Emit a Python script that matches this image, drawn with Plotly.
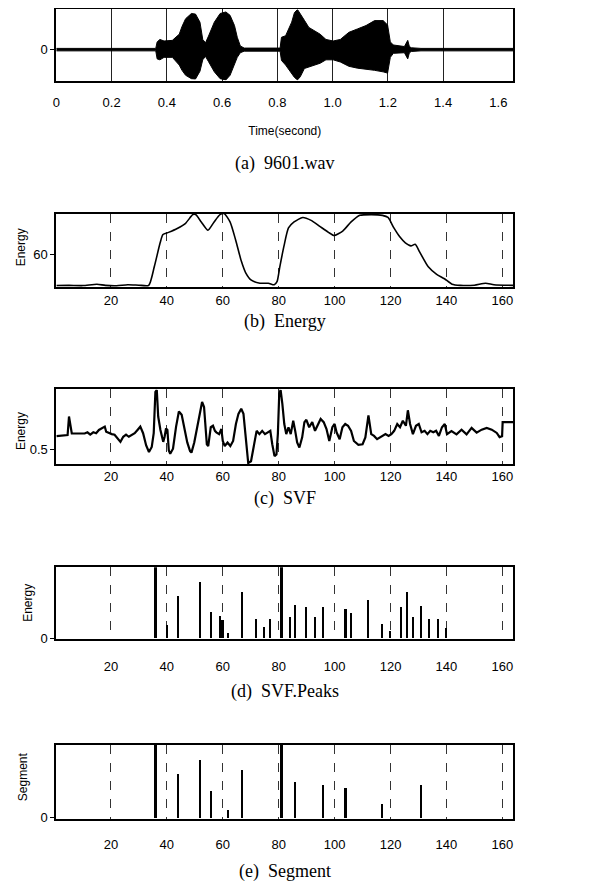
import plotly.graph_objects as go

# ---------------- data ----------------
# (a) waveform envelope of 9601.wav (time in seconds, amplitude in relative units)
wave_t = [0.0, 0.36, 0.365, 0.375, 0.39, 0.42, 0.445, 0.455, 0.468, 0.489, 0.504, 0.52, 0.53, 0.54,
          0.551, 0.572, 0.593, 0.614, 0.629, 0.645, 0.655, 0.666, 0.68, 0.81, 0.815, 0.83, 0.852,
          0.862, 0.873, 0.883, 0.898, 0.914, 0.935, 0.955, 0.976, 1.002, 1.028, 1.059, 1.09, 1.121,
          1.152, 1.183, 1.199, 1.209, 1.22, 1.26, 1.272, 1.278, 1.285, 1.32, 1.66]
wave_upper = [0.04, 0.04, 0.25, 0.33, 0.28, 0.30, 0.50, 0.75, 1.00, 1.17, 1.15, 0.89, 0.33, 0.22,
              0.44, 0.89, 1.17, 1.22, 1.11, 0.78, 0.40, 0.12, 0.05, 0.05, 0.40, 0.45, 0.89,
              1.20, 1.30, 1.17, 0.95, 0.72, 0.61, 0.50, 0.33, 0.28, 0.33, 0.56, 0.67, 0.78,
              0.94, 0.94, 0.80, 0.25, 0.15, 0.10, 0.30, 0.10, 0.06, 0.04, 0.04]
wave_lower = [-0.04, -0.04, -0.30, -0.33, -0.25, -0.25, -0.50, -0.67, -0.83, -0.94, -0.95, -0.70, -0.33, -0.22,
              -0.39, -0.72, -0.94, -0.98, -0.83, -0.50, -0.25, -0.10, -0.05, -0.05, -0.35, -0.50, -0.76,
              -0.90, -0.98, -0.88, -0.61, -0.56, -0.50, -0.44, -0.33, -0.33, -0.40, -0.54, -0.60, -0.63,
              -0.67, -0.72, -0.76, -0.25, -0.12, -0.10, -0.30, -0.10, -0.06, -0.04, -0.04]
time_ticks = [0, 0.2, 0.4, 0.6, 0.8, 1.0, 1.2, 1.4, 1.6]
time_ticktext = ["0", "0.2", "0.4", "0.6", "0.8", "1.0", "1.2", "1.4", "1.6"]
time_grid = [0.2, 0.4, 0.6, 0.8, 1.0, 1.2, 1.4]

# (b) energy per frame
energy_frame = [0.5, 5, 10, 15, 18, 22, 26, 30, 33.5, 35.5, 37.6, 38.6, 40.6, 43.7, 46.7, 49.3, 50.3,
                52.3, 54.7, 56.9, 59, 60.5, 62.6, 64.6, 66.6, 68.2, 70.2, 73.3, 76.3, 78.4, 79.4,
                80.4, 81.9, 83.5, 85.5, 88.6, 91.6, 94.7, 97.8, 99.8, 102.9, 105.9, 109, 113.1,
                117.1, 119.1, 121.2, 123.3, 125.3, 127.3, 128.8, 130.4, 133.5, 136.5, 139.3, 142,
                145, 150, 154, 157, 164]
energy_value = [43.8, 43.9, 43.8, 44.5, 43.9, 43.7, 44.2, 44.0, 43.9, 53.5, 65.9, 70.2, 71.3, 73.3,
                76.0, 80.5, 80.5, 76.7, 72.4, 76.7, 80.5, 81.0, 76.7, 67.4, 56.6, 50.4, 46.6, 45.0,
                45.0, 44.2, 45.8, 53.5, 64.3, 73.6, 76.7, 79.0, 77.5, 74.4, 71.3, 69.7, 72.0, 76.7,
                80.1, 80.5, 80.1, 79.0, 73.6, 69.0, 65.9, 64.3, 65.1, 61.2, 53.5, 49.6, 47.3, 44.5,
                43.9, 44.0, 45.0, 44.2, 43.9]

# (c) SVF per frame
svf_frame = [0.5, 4.5, 5, 5.5, 6, 8, 10.6, 11.6, 12.6, 13.7, 14.7, 15.7, 16.7, 17.8, 18.3, 19.3, 20.3,
             21.3, 22.3, 23.4, 24.4, 25.4, 26.4, 27.4, 28.5, 29.5, 30.5, 31.5, 32.6, 33.6, 34.6,
             35.3, 35.9, 36.4, 36.9, 37.7, 38.2, 38.7, 39.2, 39.7, 40.2, 40.7, 41.2, 42.2, 43.3,
             44.3, 45.3, 46.3, 47.3, 48.3, 48.8, 49.8, 50.8, 51.8, 52.6, 53.3, 53.8, 54.3, 54.8,
             55.7, 56.5, 57.2, 57.7, 58.7, 59.5, 60, 60.7, 61.7, 62.7, 63.7, 64.7, 65.6, 66.6,
             67.4, 68.1, 68.6, 69.1, 70.1, 71.1, 72.1, 73.1, 74.1, 75.1, 76, 77, 77.7, 78.5, 79.2,
             79.7, 80.2, 80.7, 81.3, 82, 82.7, 83.5, 84.3, 85.2, 85.9, 86.6, 87.4, 88.4, 89.2,
             89.9, 90.9, 92, 93, 94, 95, 96.1, 97.1, 98.1, 99.2, 100, 100.7, 101.8, 102.8, 103.8,
             104.8, 105.9, 106.9, 108.5, 110, 111, 112.1, 113.1, 114.1, 115.2, 116.2, 117.2,
             118.2, 119.3, 120.3, 121.3, 122.4, 123.4, 124.4, 125.5, 126.2, 127, 128, 129.1,
             130.1, 131.1, 132.2, 133.2, 134.2, 135.3, 136.3, 137.3, 138.4, 139.4, 140.2, 141.8,
             143.6, 145.4, 147.2, 149, 150.8, 152.6, 154.4, 156.2, 158, 159, 159.9, 160.1, 164]
svf_value = [0.543, 0.547, 0.609, 0.586, 0.552, 0.552, 0.552, 0.556, 0.548, 0.556, 0.553, 0.564,
             0.569, 0.575, 0.558, 0.553, 0.550, 0.548, 0.535, 0.524, 0.541, 0.548, 0.541, 0.548,
             0.553, 0.564, 0.575, 0.553, 0.512, 0.490, 0.507, 0.553, 0.692, 0.698, 0.609, 0.564,
             0.541, 0.524, 0.541, 0.569, 0.564, 0.495, 0.484, 0.501, 0.575, 0.626, 0.615, 0.565,
             0.522, 0.493, 0.488, 0.522, 0.573, 0.618, 0.658, 0.641, 0.573, 0.516, 0.510, 0.573,
             0.578, 0.561, 0.556, 0.550, 0.567, 0.527, 0.510, 0.522, 0.510, 0.527, 0.584, 0.618,
             0.635, 0.618, 0.550, 0.493, 0.453, 0.459, 0.516, 0.561, 0.550, 0.561, 0.550, 0.556,
             0.561, 0.516, 0.476, 0.482, 0.550, 0.686, 0.698, 0.652, 0.584, 0.550, 0.573, 0.550,
             0.595, 0.561, 0.522, 0.505, 0.539, 0.590, 0.598, 0.573, 0.590, 0.561, 0.584, 0.601,
             0.590, 0.567, 0.527, 0.573, 0.584, 0.556, 0.533, 0.573, 0.584, 0.578, 0.561, 0.527,
             0.514, 0.516, 0.539, 0.613, 0.550, 0.544, 0.533, 0.539, 0.544, 0.550, 0.544, 0.550,
             0.561, 0.584, 0.573, 0.595, 0.578, 0.630, 0.584, 0.550, 0.578, 0.584, 0.556, 0.561,
             0.550, 0.561, 0.556, 0.561, 0.544, 0.573, 0.584, 0.550, 0.560, 0.549, 0.565, 0.549,
             0.571, 0.555, 0.565, 0.571, 0.565, 0.554, 0.540, 0.543, 0.590, 0.590]

# (d) SVF peaks
peak_frame = [36, 40, 44, 52, 56, 59, 60, 62, 67, 72, 75, 77, 81, 84, 86, 90, 93, 96, 104, 106,
              112, 117, 120, 124, 126, 128, 131, 134, 137, 140]
peak_value = [1.0, 0.18, 0.59, 0.79, 0.37, 0.31, 0.25, 0.07, 0.65, 0.27, 0.16, 0.27, 1.0, 0.29,
              0.46, 0.44, 0.30, 0.44, 0.41, 0.35, 0.53, 0.19, 0.10, 0.43, 0.65, 0.29, 0.45, 0.27,
              0.27, 0.14]

# (e) segment boundaries
seg_frame = [36, 44, 52, 56, 62, 67, 81, 86, 96, 104, 117, 131]
seg_value = [1.0, 0.60, 0.80, 0.38, 0.11, 0.66, 1.0, 0.49, 0.46, 0.41, 0.20, 0.46]

frame_ticks = [20, 40, 60, 80, 100, 120, 140, 160]

# ---------------- figure ----------------
W, H = 606, 891
X_DOM = [44.6 / W, 504.6 / W]

def ydom(top_px, bot_px):
    return [1 - bot_px / H, 1 - top_px / H]

panels = {
    1: ydom(1.5, 73),
    2: ydom(207, 281),
    3: ydom(384, 459),
    4: ydom(563, 635.5),
    5: ydom(741.5, 816.5),
}

fig = go.Figure()

# (a) waveform envelope, filled black
fig.add_trace(go.Scatter(x=wave_t, y=wave_upper, mode="lines", line=dict(color="black", width=1),
                         xaxis="x", yaxis="y", hoverinfo="skip"))
fig.add_trace(go.Scatter(x=wave_t, y=wave_lower, mode="lines", line=dict(color="black", width=1),
                         fill="tonexty", fillcolor="black", xaxis="x", yaxis="y", hoverinfo="skip"))

# (b) energy
fig.add_trace(go.Scatter(x=energy_frame, y=energy_value, mode="lines",
                         line=dict(color="black", width=1.6, shape="spline", smoothing=0.6),
                         xaxis="x2", yaxis="y2"))
# (c) SVF
fig.add_trace(go.Scatter(x=svf_frame, y=svf_value, mode="lines",
                         line=dict(color="black", width=2.2),
                         xaxis="x3", yaxis="y3"))
# (d) SVF peaks
fig.add_trace(go.Bar(x=peak_frame, y=peak_value,
                     width=[1.1 if v >= 1 else 0.75 for v in peak_value],
                     marker=dict(color="black", line=dict(width=0)),
                     xaxis="x4", yaxis="y4"))
# (e) segments
fig.add_trace(go.Bar(x=seg_frame, y=seg_value,
                     width=[1.1 if v >= 1 else 0.75 for v in seg_value],
                     marker=dict(color="black", line=dict(width=0)),
                     xaxis="x5", yaxis="y5"))

tick_font = dict(family="Liberation Sans, Arial, sans-serif", size=13, color="black")

def frame_xaxis(anchor, standoff):
    return dict(domain=X_DOM, anchor=anchor, range=[0.46, 163.9], tickmode="array",
                tickvals=frame_ticks, ticks="", showgrid=True, gridcolor="#333333",
                gridwidth=1, griddash="dash", showline=True, mirror=True, linecolor="black",
                linewidth=1.8, zeroline=False, tickfont=tick_font, ticklabelstandoff=standoff,
                fixedrange=True)

def plain_yaxis(anchor, dom, rng, tv, tt):
    return dict(domain=dom, anchor=anchor, range=rng, tickmode="array", tickvals=tv,
                ticktext=tt, ticks="outside", ticklen=4, tickcolor="black", showgrid=False,
                showline=True, mirror=True, linecolor="black", linewidth=1.8, zeroline=False,
                tickfont=tick_font, fixedrange=True)

fig.update_layout(
    width=W, height=H, margin=dict(l=0, r=0, t=0, b=0),
    paper_bgcolor="white", plot_bgcolor="white", showlegend=False, bargap=0,
    xaxis=dict(domain=X_DOM, anchor="y", range=[0.0, 1.654], tickmode="array",
               tickvals=time_ticks, ticktext=time_ticktext, ticks="", showgrid=False,
               minor=dict(tickmode="array", tickvals=time_grid, showgrid=True,
                          gridcolor="#222222", gridwidth=1.2, ticks=""),
               showline=True, mirror=True, linecolor="black", linewidth=1.8, zeroline=False,
               tickfont=tick_font, ticklabelstandoff=9,
               title=dict(text="Time(second)", standoff=18,
                          font=dict(family="Liberation Sans, Arial, sans-serif", size=12,
                                    color="black")),
               fixedrange=True),
    yaxis=plain_yaxis("x", panels[1], [-1.0, 1.3], [0], ["0"]),
    xaxis2=frame_xaxis("y2", 0),
    yaxis2=plain_yaxis("x2", panels[2], [43, 81], [60], ["60"]),
    xaxis3=frame_xaxis("y3", 0),
    yaxis3=plain_yaxis("x3", panels[3], [0.45, 0.70], [0.5], ["0.5"]),
    xaxis4=frame_xaxis("y4", 14),
    yaxis4=plain_yaxis("x4", panels[4], [-0.015, 1.0], [0], ["0"]),
    xaxis5=frame_xaxis("y5", 12),
    yaxis5=plain_yaxis("x5", panels[5], [-0.015, 1.0], [0], ["0"]),
)

cap_font = dict(family="Liberation Serif, Times New Roman, serif", size=18, color="black")
captions = [("(a)  9601.wav", 157), ("(b)  Energy", 316), ("(c)  SVF", 494),
            ("(d)  SVF.Peaks", 688), ("(e)  Segment", 869)]
cx = (X_DOM[0] + X_DOM[1]) / 2
for text, ypx in captions:
    fig.add_annotation(text=text, x=cx, y=1 - ypx / H, xref="paper", yref="paper",
                       showarrow=False, font=cap_font, xanchor="center", yanchor="middle")

ttl_font = dict(family="Liberation Sans, Arial, sans-serif", size=12, color="black")
titles = [("Energy", 9, 241), ("Energy", 9, 426), ("Energy", 16, 599), ("Segment", 11, 773.5)]
for text, xpx, ypx in titles:
    fig.add_annotation(text=text, x=xpx / W, y=1 - ypx / H, xref="paper", yref="paper",
                       showarrow=False, font=ttl_font, textangle=-90,
                       xanchor="center", yanchor="middle")

fig.write_html("out.html")
